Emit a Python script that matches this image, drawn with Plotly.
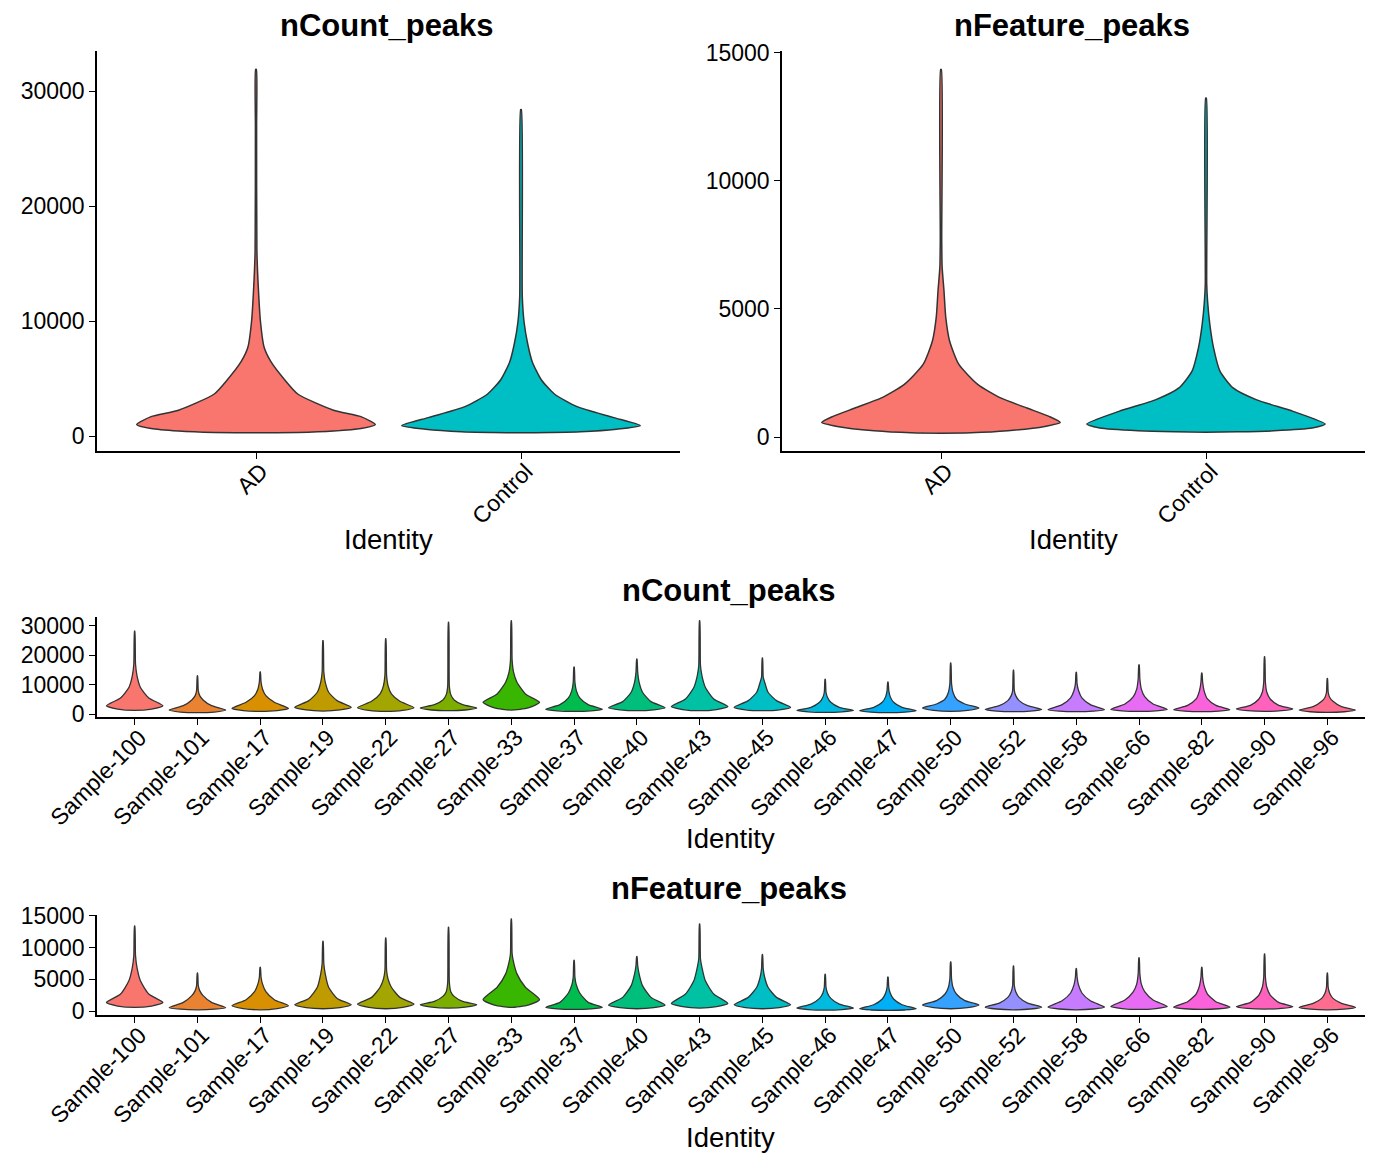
import plotly.graph_objects as go

FONT = "Liberation Sans, Arial, sans-serif"
W, H = 1378, 1161

# ---------------- data ----------------
groups = ["AD", "Control"]
group_colors = ["#F8766D", "#00BFC4"]

# violin outlines: values (bottom -> top) and relative half-widths
ad_count_vals = [280, 312, 437, 656, 1000, 1690, 2250, 3660, 4900, 6470, 7720, 9900, 13000, 16150, 27000, 31900]
ad_count_wids = [0, 0.35, 0.65, 0.88, 1.0, 0.88, 0.65, 0.35, 0.24, 0.125, 0.068, 0.038, 0.019, 0.0075, 0.005, 0.003]
ctl_count_vals = [280, 312, 375, 594, 906, 1625, 2560, 3660, 4900, 6470, 8030, 9900, 12100, 28400]
ctl_count_wids = [0, 0.24, 0.5, 0.8, 1.0, 0.77, 0.47, 0.28, 0.17, 0.094, 0.056, 0.026, 0.011, 0.003]
ad_feat_vals = [157, 170, 248, 418, 575, 810, 1137, 1530, 2050, 2836, 3750, 4670, 5710, 6630, 7670, 14340]
ad_feat_wids = [0, 0.25, 0.56, 0.87, 1.0, 0.906, 0.72, 0.5, 0.31, 0.15, 0.072, 0.04, 0.025, 0.0095, 0.006, 0.003]
ctl_feat_vals = [196, 209, 248, 353, 510, 1006, 1464, 1921, 2575, 3490, 4400, 5320, 5970, 13227]
ctl_feat_wids = [0, 0.26, 0.57, 0.89, 1.0, 0.73, 0.42, 0.227, 0.117, 0.063, 0.032, 0.013, 0.006, 0.003]

samples = ["Sample-100", "Sample-101", "Sample-17", "Sample-19", "Sample-22", "Sample-27",
           "Sample-33", "Sample-37", "Sample-40", "Sample-43", "Sample-45", "Sample-46",
           "Sample-47", "Sample-50", "Sample-52", "Sample-58", "Sample-66", "Sample-82",
           "Sample-90", "Sample-96"]
sample_colors = ["#F8766D", "#EA8331", "#D89000", "#C09B00", "#A3A500", "#7CAE00", "#39B600",
                 "#00BB4E", "#00BF7D", "#00C1A3", "#00BFC4", "#00BAE0", "#00B0F6", "#35A2FF",
                 "#9590FF", "#C77CFF", "#E76BF3", "#FA62DB", "#FF62BC", "#FF6C90"]

# per-sample outline: value at each relative half-width level
level_widths = [0, 0.6, 1.0, 0.5, 0.2, 0.08, 0.03, 0.006]

count_min = [1360, 570, 1020, 1140, 1020, 1250, 1480, 1020, 1250, 1250, 1250, 680, 570, 1020, 910, 910, 1020, 910, 1020, 680]
count_lo = [1800, 800, 1300, 1500, 1350, 1500, 2200, 1200, 1550, 1650, 1550, 870, 760, 1350, 1130, 1100, 1200, 1100, 1250, 900]
count_mode = [2950, 1480, 2050, 2390, 2270, 2160, 4090, 1700, 2270, 2610, 2390, 1360, 1250, 2160, 1700, 1590, 1700, 1590, 1820, 1480]
count_q50 = [5570, 2950, 4100, 4660, 4430, 3290, 6930, 3290, 4320, 5230, 4660, 2390, 2390, 3520, 2950, 3290, 3520, 3070, 3070, 2610]
count_q20 = [9200, 4900, 6360, 7500, 6930, 4880, 10900, 5570, 7500, 9200, 7500, 4090, 4090, 5230, 4660, 5570, 6020, 5230, 5230, 4430]
count_q08 = [13200, 6360, 8630, 10900, 9770, 6700, 14300, 8070, 10900, 13200, 10900, 5800, 6020, 7500, 6360, 8070, 8630, 8070, 7500, 5800]
count_q03 = [17150, 8070, 10900, 14300, 13200, 9500, 18300, 10900, 14300, 16600, 12600, 7500, 8070, 10340, 8070, 10340, 12000, 10900, 10900, 7500]
count_max = [28200, 13100, 14400, 25000, 25600, 31200, 31700, 16100, 18800, 31700, 19100, 11900, 11000, 17400, 15000, 14300, 16800, 14000, 19500, 12200]

feat_min = [580, 210, 210, 370, 370, 475, 580, 260, 370, 475, 370, 160, 105, 370, 210, 210, 260, 260, 320, 210]
feat_lo = [800, 300, 400, 550, 580, 630, 950, 350, 540, 690, 550, 250, 180, 540, 330, 330, 400, 370, 430, 320]
feat_mode = [1370, 530, 840, 1000, 1110, 1000, 1800, 580, 950, 1210, 1000, 475, 370, 950, 630, 630, 740, 630, 690, 580]
feat_q50 = [2690, 1370, 1800, 2000, 2160, 1530, 3750, 1370, 2160, 2690, 2160, 1110, 1000, 1640, 1270, 1640, 1740, 1480, 1370, 1210]
feat_q20 = [4800, 2430, 3060, 3750, 3750, 2320, 5860, 2850, 4010, 4800, 3750, 2000, 1900, 2690, 2160, 2850, 3060, 2690, 2530, 2000]
feat_q08 = [6900, 3220, 4280, 5860, 5070, 3060, 7700, 4120, 5860, 6920, 5330, 2850, 2850, 3750, 3060, 4120, 4280, 4010, 3750, 2850]
feat_q03 = [8760, 4010, 5330, 7440, 6390, 4500, 9030, 5330, 7180, 8240, 6650, 3750, 3750, 5070, 4010, 5330, 5860, 5330, 5330, 3750]
feat_max = [13400, 6000, 6900, 11000, 11500, 13200, 14500, 8000, 8600, 13700, 8900, 5800, 5350, 7750, 7100, 6700, 8400, 6900, 9000, 6000]

count_ticks = [0, 10000, 20000, 30000]
feat_ticks = [0, 5000, 10000, 15000]

# ---------------- figure ----------------
fig = go.Figure()
HALF = 0.45


def add_violin(xc, vals, wids, color, ax, lw=1.5):
    xs = [xc + HALF * w for w in wids] + [xc - HALF * w for w in reversed(wids)]
    ys = list(vals) + list(reversed(vals))
    fig.add_trace(go.Scatter(
        x=xs, y=ys, mode="lines", fill="toself", fillcolor=color,
        line=dict(color="#333333", width=lw, shape="spline", smoothing=0.6),
        xaxis="x" + ax, yaxis="y" + ax, showlegend=False, hoverinfo="skip"))


add_violin(1, ad_count_vals, ad_count_wids, group_colors[0], "")
add_violin(2, ctl_count_vals, ctl_count_wids, group_colors[1], "")
add_violin(1, ad_feat_vals, ad_feat_wids, group_colors[0], "2")
add_violin(2, ctl_feat_vals, ctl_feat_wids, group_colors[1], "2")

for i in range(len(samples)):
    cv = [count_min[i], count_lo[i], count_mode[i], count_q50[i], count_q20[i],
          count_q08[i], count_q03[i], count_max[i]]
    add_violin(i + 1, cv, level_widths, sample_colors[i], "3", lw=1.3)
    fv = [feat_min[i], feat_lo[i], feat_mode[i], feat_q50[i], feat_q20[i],
          feat_q08[i], feat_q03[i], feat_max[i]]
    add_violin(i + 1, fv, level_widths, sample_colors[i], "4", lw=1.3)


def px_x(p):
    return p / W


def px_y(p):
    return 1 - p / H


def xax(dom, ncat, labels, anchor):
    return dict(domain=[px_x(dom[0]), px_x(dom[1])], range=[0.4, ncat + 0.6], anchor=anchor,
                tickmode="array", tickvals=list(range(1, ncat + 1)), ticktext=labels,
                tickangle=-45, showline=True, linecolor="black", linewidth=1.6,
                ticks="outside", ticklen=6, tickwidth=1.3, tickcolor="black",
                ticklabelstandoff=-10, ticklabelshift=5,
                showgrid=False, zeroline=False, fixedrange=True, automargin=False,
                tickfont=dict(family=FONT, size=23, color="black"))


def yax(dom, rng, tv, anchor):
    return dict(domain=[px_y(dom[1]), px_y(dom[0])], range=rng, anchor=anchor,
                tickmode="array", tickvals=tv, ticktext=[str(v) for v in tv],
                showline=True, linecolor="black", linewidth=1.6,
                ticks="outside", ticklen=6, tickwidth=1.3, tickcolor="black",
                showgrid=False, zeroline=False, fixedrange=True, automargin=False,
                tickfont=dict(family=FONT, size=23, color="black"))


fig.update_layout(
    width=W, height=H, autosize=False,
    margin=dict(l=0, r=0, t=0, b=0, pad=0, autoexpand=False),
    paper_bgcolor="white", plot_bgcolor="white",
    xaxis=xax((97, 680), 2, groups, "y"),
    yaxis=yax((51, 451), [-1300, 33500], count_ticks, "x"),
    xaxis2=xax((782, 1365), 2, groups, "y2"),
    yaxis2=yax((51, 451), [-540, 15060], feat_ticks, "x2"),
    xaxis3=xax((97, 1365), len(samples), samples, "y3"),
    yaxis3=yax((616.5, 717.3), [-980, 33150], count_ticks, "x3"),
    xaxis4=xax((97, 1365), len(samples), samples, "y4"),
    yaxis4=yax((915, 1015), [-610, 15115], feat_ticks, "x4"),
)

annots = [
    ("<b>nCount_peaks</b>", 387, 25, 31),
    ("<b>nFeature_peaks</b>", 1072, 25, 31),
    ("<b>nCount_peaks</b>", 729, 590, 31),
    ("<b>nFeature_peaks</b>", 729, 888, 31),
    ("Identity", 388, 540, 27.5),
    ("Identity", 1073, 540, 27.5),
    ("Identity", 730, 838, 27.5),
    ("Identity", 730, 1137, 27.5),
]
for text, x, y, size in annots:
    fig.add_annotation(text=text, x=px_x(x), y=px_y(y), xref="paper", yref="paper",
                       xanchor="center", yanchor="middle", showarrow=False,
                       font=dict(family=FONT, size=size, color="black"))

fig.write_html("out.html")
